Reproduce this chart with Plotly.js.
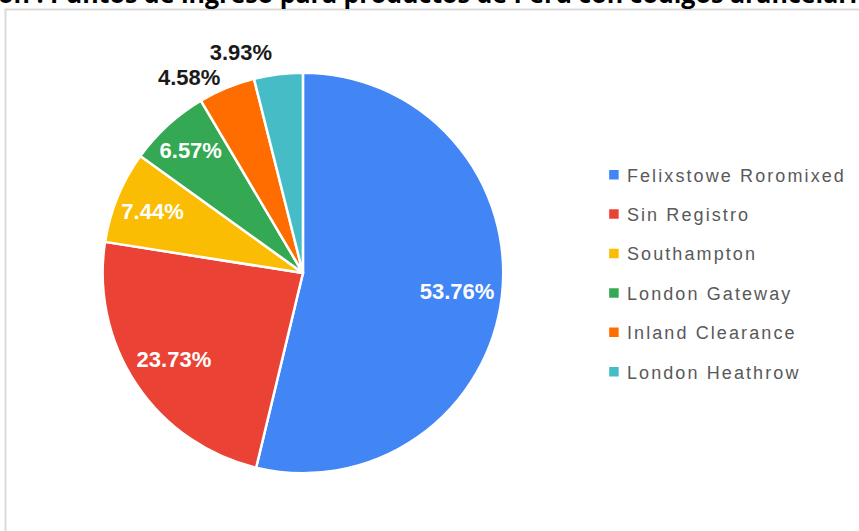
<!DOCTYPE html>
<html>
<head>
<meta charset="utf-8">
<script src="https://cdn.plot.ly/plotly-3.0.1.min.js"></script>
<style>
html, body { margin: 0; padding: 0; background: #fff; }
#chart { width: 859px; height: 531px; }
.legendtext { letter-spacing: 2.1px; transform: translateX(-7px); }
path.textline { display: none !important; }
</style>
</head>
<body>
<div id="chart"></div>
<script>
const categories = ["Felixstowe Roromixed", "Sin Registro", "Southampton", "London Gateway", "Inland Clearance", "London Heathrow"];
const shares = [53.76, 23.73, 7.44, 6.57, 4.58, 3.93];
const sliceColors = ["#4285F4", "#EA4335", "#FBBC04", "#34A853", "#FF6D01", "#46BDC6"];
const labelPlacement = ["inside", "inside", "inside", "inside", "outside", "outside"];
const titleText = "ón : Puntos de ingreso para productos de Perú con códigos arancelari";

const legendLabels = categories.map(c => '<span style="font-size:18px;baseline-shift:4px">' + c + '</span>');
const pieDomain = { x: [103/859, 505/859], y: [(531-474)/531, (531-72)/531] };
const labelFont = "Liberation Sans, Arial, sans-serif";

// colored pie (slices + legend)
const slicesTrace = {
  type: "pie",
  labels: legendLabels,
  values: shares,
  sort: false,
  direction: "clockwise",
  rotation: 0,
  marker: { colors: sliceColors, line: { color: "#ffffff", width: 2.5 } },
  textinfo: "none",
  hoverinfo: "label+percent",
  domain: pieDomain
};

// transparent ring carrying the percentage labels further out from the centre
const labelsTrace = {
  type: "pie",
  labels: legendLabels,
  values: shares,
  sort: false,
  direction: "clockwise",
  rotation: 0,
  hole: 0.55,
  showlegend: false,
  marker: { colors: sliceColors.map(() => "rgba(0,0,0,0)"), line: { width: 0 } },
  texttemplate: "%{value:.2f}%",
  textposition: labelPlacement,
  insidetextorientation: "horizontal",
  insidetextfont: { family: labelFont, size: 22, color: "#ffffff", weight: "bold" },
  outsidetextfont: { family: labelFont, size: 22, color: "#1a1a1a", weight: "bold" },
  hoverinfo: "skip",
  domain: pieDomain
};

const layout = {
  width: 859,
  height: 531,
  margin: { l: 0, r: 0, t: 0, b: 0 },
  paper_bgcolor: "#ffffff",
  showlegend: true,
  uniformtext: { mode: "show", minsize: 22 },
  legend: {
    x: 596/859, xanchor: "left",
    y: (531-150)/531, yanchor: "top",
    font: { family: labelFont, size: 28, color: "#595959" },
    bgcolor: "rgba(0,0,0,0)"
  },
  shapes: [{
    type: "rect", xref: "paper", yref: "paper",
    x0: 5.5/859, x1: 1.02, y0: -0.02, y1: 1 - 9.5/531,
    line: { color: "#d9d9d9", width: 2 }, fillcolor: "rgba(0,0,0,0)", layer: "below"
  }],
  annotations: [{
    text: titleText, xref: "paper", yref: "paper", x: 0, y: 1,
    xanchor: "left", yanchor: "bottom", yshift: -12, xshift: -4, showarrow: false,
    font: { family: "Open Sans, Liberation Sans, sans-serif", size: 25, color: "#000000", weight: "bold" }
  }]
};

Plotly.newPlot("chart", [slicesTrace, labelsTrace], layout, { displayModeBar: false, staticPlot: true });
</script>
</body>
</html>
